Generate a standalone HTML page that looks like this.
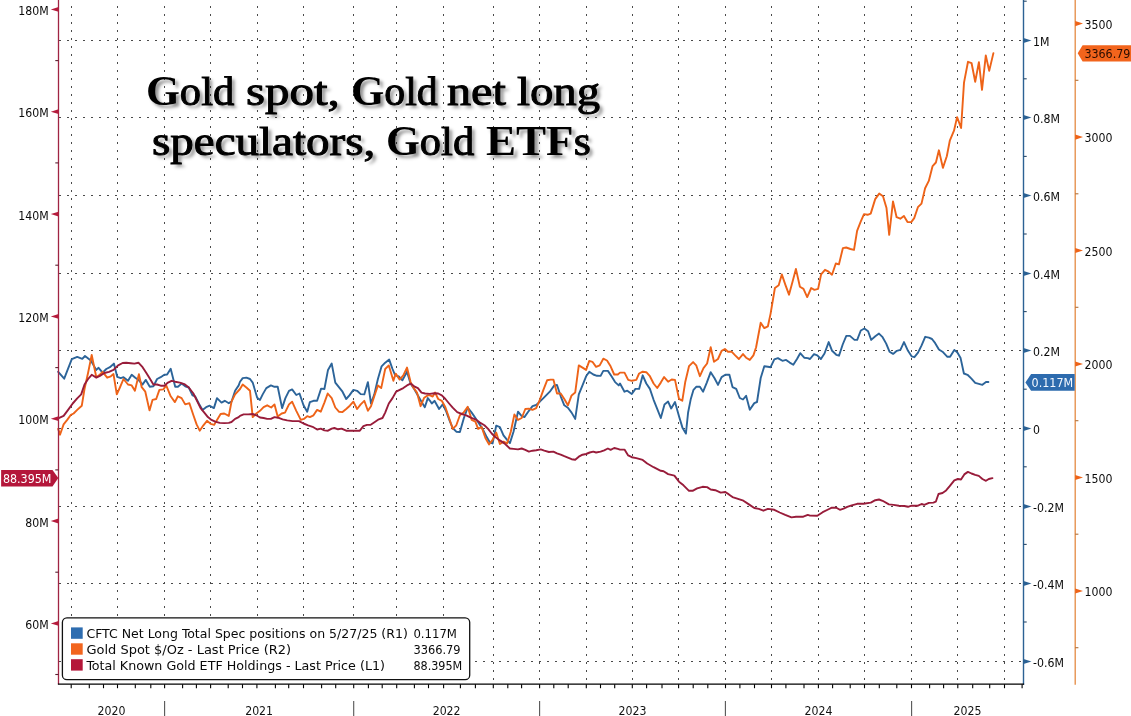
<!DOCTYPE html>
<html lang="en"><head><meta charset="utf-8"><title>Gold spot, Gold net long speculators, Gold ETFs</title>
<style>
html,body{margin:0;padding:0;background:#fff;}
body{width:1131px;height:716px;overflow:hidden;position:relative;}
svg{position:absolute;left:0;top:0;display:block;}
.lbl{font-family:"DejaVu Sans Condensed","DejaVu Sans","Liberation Sans",sans-serif;font-stretch:condensed;font-size:13.0px;fill:#0a0a0a;}
.yr{font-family:"DejaVu Sans Condensed","DejaVu Sans","Liberation Sans",sans-serif;font-stretch:condensed;font-size:13.0px;fill:#111;}
.title{position:absolute;left:0;top:0;width:1131px;margin:0;font-family:"Liberation Serif","DejaVu Serif",serif;font-weight:normal;font-size:41.0px;line-height:51px;color:#000;white-space:nowrap;text-shadow:3.2px 3.2px 3.2px rgba(0,0,0,0.42);-webkit-text-stroke:1.0px #000;}
.title span{position:absolute;display:block;transform-origin:0 0;}
.title b{font-weight:bold;font-size:42.0px;-webkit-text-stroke:0;}
</style></head><body>
<svg width="1131" height="716" viewBox="0 0 1131 716">
<rect x="0" y="0" width="1131" height="716" fill="#ffffff"/>

<g stroke="#4a4a4a" stroke-width="1" stroke-dasharray="2 6" fill="none">
<line x1="59" y1="40.5" x2="1023.5" y2="40.5"/>
<line x1="59" y1="117.5" x2="1023.5" y2="117.5"/>
<line x1="59" y1="195.5" x2="1023.5" y2="195.5"/>
<line x1="59" y1="273.5" x2="1023.5" y2="273.5"/>
<line x1="59" y1="350.5" x2="1023.5" y2="350.5"/>
<line x1="59" y1="428.5" x2="1023.5" y2="428.5"/>
<line x1="59" y1="506.5" x2="1023.5" y2="506.5"/>
<line x1="59" y1="583.5" x2="1023.5" y2="583.5"/>
<line x1="59" y1="661.5" x2="1023.5" y2="661.5"/>
</g><g stroke="#4a4a4a" stroke-width="1" stroke-dasharray="2 6" fill="none">
<line x1="71.5" y1="-2" x2="71.5" y2="684.2"/>
<line x1="117.5" y1="-2" x2="117.5" y2="684.2"/>
<line x1="164.5" y1="-2" x2="164.5" y2="684.2"/>
<line x1="210.5" y1="-2" x2="210.5" y2="684.2"/>
<line x1="257.5" y1="-2" x2="257.5" y2="684.2"/>
<line x1="303.5" y1="-2" x2="303.5" y2="684.2"/>
<line x1="353.5" y1="-2" x2="353.5" y2="684.2"/>
<line x1="396.5" y1="-2" x2="396.5" y2="684.2"/>
<line x1="443.5" y1="-2" x2="443.5" y2="684.2"/>
<line x1="493.5" y1="-2" x2="493.5" y2="684.2"/>
<line x1="539.5" y1="-2" x2="539.5" y2="684.2"/>
<line x1="586.5" y1="-2" x2="586.5" y2="684.2"/>
<line x1="632.5" y1="-2" x2="632.5" y2="684.2"/>
<line x1="678.5" y1="-2" x2="678.5" y2="684.2"/>
<line x1="725.5" y1="-2" x2="725.5" y2="684.2"/>
<line x1="771.5" y1="-2" x2="771.5" y2="684.2"/>
<line x1="818.5" y1="-2" x2="818.5" y2="684.2"/>
<line x1="864.5" y1="-2" x2="864.5" y2="684.2"/>
<line x1="911.5" y1="-2" x2="911.5" y2="684.2"/>
<line x1="957.5" y1="-2" x2="957.5" y2="684.2"/>
<line x1="1004.5" y1="-2" x2="1004.5" y2="684.2"/>
</g>
<path d="M58.2 371.8 L64.2 378.7 L67.2 370.9 L71.8 359.1 L77.2 356.9 L82.3 358.9 L85.0 356.0 L90.8 360.5 L93.6 365.4 L96.3 369.9 L98.6 367.8 L102.6 372.7 L106.3 369.0 L109.9 367.2 L113.9 363.6 L117.2 376.8 L120.8 378.1 L123.5 377.2 L128.0 380.8 L131.7 374.8 L135.3 377.7 L138.9 380.3 L142.6 384.5 L145.8 379.9 L149.8 386.8 L153.4 386.3 L157.1 379.0 L160.7 377.2 L164.3 374.8 L167.1 374.5 L170.7 368.7 L175.2 386.8 L177.9 386.8 L181.6 383.6 L185.2 386.3 L188.8 387.5 L192.5 395.4 L195.2 396.3 L198.8 403.5 L202.5 409.9 L206.1 407.2 L209.7 405.7 L213.9 408.1 L217.0 398.1 L221.5 402.6 L224.8 400.8 L228.8 403.2 L231.5 401.7 L235.1 390.8 L238.7 385.4 L240.0 381.7 L242.7 378.1 L246.4 377.6 L250.0 379.0 L252.7 382.6 L257.2 397.7 L260.0 399.9 L262.7 394.4 L266.3 388.1 L270.9 385.4 L274.5 386.8 L277.7 386.8 L282.1 408.1 L285.4 398.1 L289.0 390.8 L292.1 389.4 L296.3 395.0 L299.5 393.5 L303.5 405.3 L307.2 411.7 L309.9 402.1 L313.5 400.8 L317.1 400.8 L321.1 388.6 L324.4 389.0 L328.0 369.9 L331.7 363.6 L335.3 382.6 L338.9 387.2 L342.5 391.7 L346.2 399.0 L349.4 395.4 L353.4 389.9 L357.1 390.8 L360.7 394.1 L364.3 394.4 L367.9 382.1 L371.0 403.5 L374.3 394.4 L377.9 379.0 L381.6 366.3 L385.2 362.7 L389.2 359.6 L392.5 369.0 L395.2 375.4 L398.8 376.3 L402.4 380.3 L407.0 371.8 L410.6 383.6 L414.2 389.0 L417.9 395.4 L421.5 401.7 L424.8 407.2 L427.8 398.1 L430.0 400.8 L431.8 403.5 L434.5 400.8 L439.1 409.0 L442.7 404.4 L446.3 411.7 L450.0 421.7 L452.7 428.0 L456.3 431.7 L459.9 432.0 L463.6 418.9 L467.7 407.5 L471.7 412.6 L475.4 418.0 L479.0 423.5 L482.6 428.9 L486.3 436.2 L489.9 442.5 L492.6 443.4 L496.2 425.7 L499.9 427.1 L503.5 435.3 L507.1 439.8 L509.9 443.1 L513.5 431.7 L518.0 411.7 L521.7 416.2 L524.4 417.1 L528.9 410.8 L532.5 406.2 L536.2 405.0 L539.8 401.7 L543.4 398.1 L547.1 394.4 L549.8 391.7 L554.3 385.4 L557.0 385.0 L560.7 396.3 L564.3 405.3 L567.9 407.7 L571.6 412.6 L575.2 418.9 L578.8 394.4 L582.5 385.4 L586.1 376.3 L589.3 371.8 L593.3 374.5 L597.0 375.8 L600.6 375.9 L603.3 370.9 L607.9 370.9 L611.5 376.3 L615.1 382.1 L618.7 385.4 L620.0 383.5 L624.5 391.7 L627.3 390.7 L631.8 394.0 L635.4 388.9 L639.1 388.9 L642.7 375.3 L646.3 383.5 L649.9 388.9 L653.6 399.8 L657.2 408.9 L660.8 418.0 L664.5 404.4 L668.1 401.6 L671.2 408.5 L675.0 402.0 L679.0 416.2 L682.6 428.1 L685.9 433.6 L688.1 412.5 L690.8 398.9 L693.5 389.8 L696.2 386.8 L699.9 386.8 L703.1 391.7 L706.8 382.6 L710.7 372.2 L714.4 378.0 L718.0 384.9 L721.6 377.1 L725.3 374.8 L729.4 374.8 L732.5 387.1 L736.2 388.9 L739.8 398.0 L743.0 399.5 L746.1 395.8 L749.8 409.8 L754.3 403.1 L757.0 402.0 L760.7 378.0 L764.3 366.2 L767.9 366.8 L770.6 367.2 L774.3 359.3 L777.9 358.1 L782.4 360.8 L786.1 359.9 L789.7 362.6 L793.3 364.8 L797.0 359.0 L800.2 353.2 L804.2 357.7 L807.8 358.1 L810.0 359.0 L814.0 354.1 L817.3 355.4 L820.9 359.0 L824.5 353.5 L828.7 342.1 L832.1 350.8 L836.3 354.8 L839.0 355.7 L842.7 344.5 L846.3 335.9 L849.9 335.9 L854.5 339.9 L857.2 339.9 L860.8 330.5 L864.4 328.5 L868.1 331.2 L871.2 339.9 L875.3 336.3 L879.0 333.6 L882.6 337.2 L886.2 343.6 L889.5 351.7 L893.1 353.9 L896.8 350.8 L900.4 349.9 L904.0 342.1 L908.0 350.8 L911.6 356.3 L914.4 357.2 L918.0 352.6 L921.6 345.4 L925.2 336.8 L928.9 337.7 L932.0 339.0 L935.2 343.2 L938.9 349.5 L942.5 351.7 L947.4 356.8 L950.1 356.8 L954.3 349.9 L957.4 352.6 L960.6 358.1 L963.9 373.5 L967.5 374.8 L971.2 378.4 L975.2 382.9 L978.8 383.8 L982.4 384.8 L986.0 382.0 L988.4 382.0" fill="none" stroke="#2c6499" stroke-width="1.9" stroke-linejoin="round" stroke-linecap="round"/>
<path d="M58.2 428.9 L60.0 434.7 L63.6 424.4 L67.2 419.9 L70.9 414.8 L73.6 413.5 L77.2 409.9 L81.8 405.7 L84.5 389.0 L88.1 372.7 L91.7 354.9 L96.3 377.2 L99.0 375.4 L102.6 371.8 L107.2 377.7 L110.8 376.3 L113.5 374.1 L116.8 394.4 L119.9 387.5 L123.5 379.0 L128.0 384.5 L131.7 385.4 L134.9 390.8 L138.9 374.1 L141.7 387.2 L145.3 391.7 L149.5 410.4 L152.5 399.9 L156.2 399.0 L159.4 389.9 L163.4 389.4 L166.2 385.4 L170.7 396.3 L174.9 402.1 L177.9 396.3 L181.6 398.1 L185.2 404.4 L189.4 403.2 L193.4 415.3 L196.6 424.4 L199.7 430.7 L203.4 425.3 L207.0 420.8 L210.6 423.8 L214.2 424.9 L217.0 419.9 L220.6 414.0 L224.2 413.5 L228.8 415.9 L231.5 401.7 L235.1 394.4 L240.0 389.0 L242.7 384.5 L246.4 387.5 L250.0 390.8 L252.7 417.1 L256.3 413.5 L260.0 410.8 L263.6 407.2 L267.2 405.3 L271.2 407.5 L274.5 404.4 L277.7 416.6 L281.7 413.5 L285.0 412.6 L289.0 404.4 L292.1 401.7 L296.3 410.8 L300.8 419.9 L303.9 418.9 L307.2 416.2 L309.9 417.1 L313.5 415.3 L317.1 409.9 L320.8 411.7 L324.4 402.6 L327.7 393.5 L331.7 398.1 L335.3 407.5 L338.9 411.7 L342.5 412.1 L346.2 409.0 L349.8 405.7 L353.4 401.7 L357.1 409.0 L360.7 404.4 L364.3 400.8 L367.9 410.8 L371.0 406.2 L374.3 396.3 L377.9 385.4 L381.2 388.1 L385.2 369.0 L388.8 365.4 L393.4 380.8 L395.7 373.6 L399.7 379.6 L403.3 375.4 L407.0 367.6 L410.6 382.1 L413.3 387.5 L417.0 392.6 L420.6 406.2 L424.2 397.7 L427.8 395.4 L430.0 395.4 L432.7 396.6 L435.1 392.6 L438.2 399.0 L441.8 400.8 L445.4 407.2 L449.1 418.0 L452.7 428.9 L456.3 425.3 L459.9 415.3 L463.6 412.6 L467.7 406.8 L471.7 419.9 L475.4 421.7 L478.1 428.9 L481.7 427.1 L485.4 438.0 L489.0 444.4 L492.6 439.8 L496.2 432.6 L499.9 444.0 L503.5 441.6 L507.1 443.4 L510.8 431.7 L514.4 414.4 L518.0 419.9 L521.7 418.0 L525.3 409.0 L528.9 408.6 L532.5 409.9 L536.2 408.1 L539.8 399.9 L543.4 389.9 L547.1 380.3 L550.7 379.6 L553.4 379.6 L557.0 393.5 L560.7 393.5 L564.3 399.0 L567.9 405.3 L571.6 395.4 L575.2 392.6 L578.8 365.4 L582.5 367.6 L586.1 369.9 L589.3 360.9 L592.4 361.8 L596.1 366.9 L599.7 365.4 L603.3 358.7 L607.0 360.5 L610.6 366.3 L614.2 374.5 L617.8 374.5 L620.0 372.6 L624.5 372.6 L628.2 379.9 L631.8 380.8 L636.3 379.9 L639.1 373.5 L642.7 371.7 L646.3 372.2 L649.9 376.2 L653.6 383.5 L657.2 388.0 L660.8 382.6 L664.1 377.1 L668.1 381.7 L671.7 379.5 L675.0 379.9 L679.0 398.9 L682.3 400.7 L685.3 381.7 L689.0 366.2 L693.1 362.1 L696.2 365.3 L699.9 376.2 L703.5 368.1 L707.1 363.5 L710.7 347.2 L714.0 361.7 L718.0 359.0 L721.6 350.8 L724.9 349.0 L728.0 351.7 L731.6 351.7 L735.2 355.4 L738.9 359.0 L743.0 354.1 L746.1 357.7 L749.8 359.9 L753.4 355.4 L756.1 347.2 L760.7 322.7 L764.3 328.1 L767.9 326.3 L770.6 313.6 L774.9 288.0 L778.7 285.3 L781.8 274.4 L785.4 284.9 L789.0 294.7 L792.6 281.6 L795.9 268.9 L799.9 286.7 L803.5 288.9 L807.2 297.1 L811.2 288.0 L814.4 289.8 L818.1 288.9 L821.1 274.4 L825.0 269.8 L828.6 271.7 L832.0 274.7 L835.8 263.5 L838.9 264.4 L842.9 248.1 L846.2 247.5 L850.4 249.0 L854.0 249.9 L857.1 230.8 L860.7 221.7 L864.0 214.1 L867.6 214.8 L870.7 213.6 L875.2 199.1 L879.2 193.6 L883.0 196.3 L886.5 208.1 L889.2 234.8 L893.0 201.4 L896.6 217.2 L900.3 218.7 L903.9 215.9 L907.5 222.1 L911.2 222.1 L914.2 218.1 L917.9 207.2 L921.5 203.6 L925.1 188.2 L928.8 180.9 L932.6 166.1 L935.9 162.5 L938.9 150.3 L942.9 167.9 L946.8 156.2 L949.8 140.7 L954.0 130.7 L957.1 117.1 L961.1 128.0 L964.0 82.6 L968.0 61.8 L971.6 63.2 L975.2 81.7 L978.9 62.1 L982.0 89.9 L985.8 55.4 L989.2 70.9 L993.4 53.1" fill="none" stroke="#ee6318" stroke-width="1.9" stroke-linejoin="round" stroke-linecap="round"/>
<path d="M58.2 418.4 L63.6 415.9 L68.1 409.9 L72.7 403.5 L77.2 398.4 L81.2 394.4 L84.5 384.5 L88.1 379.0 L91.7 374.8 L96.3 377.6 L99.9 375.9 L104.4 373.0 L109.0 371.8 L113.5 369.9 L118.1 365.4 L122.6 363.0 L126.2 362.7 L130.8 363.2 L134.4 363.6 L138.4 362.7 L142.6 367.2 L146.2 372.7 L149.8 378.5 L153.4 384.5 L157.1 384.5 L160.7 385.7 L164.3 385.7 L168.0 382.6 L171.6 380.8 L175.2 381.7 L179.8 382.6 L184.3 384.1 L188.8 387.5 L193.4 393.5 L197.0 400.8 L200.6 408.1 L204.3 412.6 L207.9 417.1 L211.5 419.9 L215.2 421.7 L219.7 422.9 L224.2 423.1 L228.8 422.9 L231.5 422.0 L235.1 418.9 L238.7 417.1 L240.0 415.9 L243.6 414.4 L248.2 414.4 L252.7 414.0 L256.3 415.3 L260.0 417.5 L263.6 418.0 L267.2 418.9 L270.9 418.9 L274.5 417.1 L278.1 417.7 L282.6 419.3 L287.2 420.4 L292.6 421.1 L299.0 421.1 L303.5 423.5 L308.1 425.3 L312.6 426.8 L317.1 429.5 L320.8 428.6 L324.4 430.4 L328.0 430.7 L331.7 428.6 L334.4 428.0 L338.0 429.3 L341.6 428.6 L346.2 430.7 L350.7 430.7 L355.2 430.7 L359.8 430.7 L363.4 426.2 L367.0 424.9 L370.7 424.8 L375.2 421.7 L378.8 419.3 L382.5 418.0 L385.2 412.6 L388.8 403.5 L392.5 398.1 L396.1 391.7 L399.7 389.9 L403.3 388.1 L407.0 385.4 L410.6 383.6 L414.2 386.3 L417.9 388.1 L421.5 392.6 L425.1 393.5 L429.7 393.9 L434.5 393.2 L438.2 393.5 L441.8 395.4 L445.4 399.0 L449.1 403.5 L452.7 407.7 L457.2 412.2 L461.8 414.0 L466.3 415.3 L470.8 417.7 L475.4 419.3 L479.9 422.6 L484.4 425.3 L488.1 428.9 L491.7 433.5 L495.3 437.1 L499.9 440.4 L504.4 443.4 L509.9 448.5 L513.5 448.9 L518.0 449.4 L521.7 448.5 L525.3 449.8 L528.9 451.6 L532.5 450.7 L536.2 450.3 L540.7 449.4 L544.3 450.7 L548.9 452.0 L553.4 451.6 L557.0 453.4 L560.7 454.7 L564.3 456.2 L567.9 457.6 L571.6 459.2 L575.2 459.8 L578.8 456.7 L582.5 454.7 L586.1 454.0 L589.7 452.5 L593.3 451.6 L596.1 452.5 L600.6 451.6 L604.2 450.3 L607.9 448.5 L610.6 449.8 L614.2 448.0 L617.8 448.9 L620.0 449.6 L624.5 449.6 L628.2 455.4 L631.8 457.2 L636.3 458.1 L642.7 459.9 L647.2 463.5 L653.6 467.2 L660.8 470.8 L663.6 471.2 L668.1 474.1 L674.4 475.7 L679.0 481.7 L683.5 485.3 L689.0 490.8 L692.6 490.8 L697.1 488.4 L702.6 486.8 L707.1 487.1 L710.7 489.5 L715.3 490.2 L720.7 492.6 L725.3 492.0 L728.9 494.4 L732.5 497.1 L738.0 498.9 L743.4 500.7 L748.9 504.4 L754.3 508.0 L758.8 508.9 L763.4 510.7 L767.9 508.9 L774.3 509.8 L779.7 512.5 L785.2 514.9 L791.5 517.4 L796.0 516.7 L803.3 516.7 L807.8 514.9 L810.0 515.6 L817.3 515.8 L822.7 512.2 L828.1 509.5 L831.8 507.7 L836.3 507.7 L839.9 509.8 L843.6 508.6 L847.2 506.8 L851.7 505.3 L857.2 503.8 L863.5 503.8 L870.8 502.6 L875.3 500.2 L879.0 499.5 L882.6 500.8 L888.9 504.4 L893.5 504.9 L898.9 505.7 L904.4 506.0 L908.0 506.8 L911.6 505.7 L918.0 505.7 L921.6 504.0 L924.3 504.9 L928.9 502.9 L933.4 502.6 L935.8 501.7 L938.5 494.0 L942.5 493.0 L946.1 490.4 L949.7 486.2 L954.3 480.4 L957.9 479.0 L961.0 479.5 L964.3 474.4 L967.9 471.9 L971.5 473.5 L975.2 474.8 L978.8 475.9 L982.4 479.0 L986.0 480.8 L988.8 479.0 L992.4 478.1" fill="none" stroke="#981c3a" stroke-width="1.9" stroke-linejoin="round" stroke-linecap="round"/>
<line x1="58.5" y1="0" x2="58.5" y2="684.2" stroke="#a02443" stroke-width="1.3"/>
<line x1="1023.5" y1="0" x2="1023.5" y2="684.7" stroke="#2c6294" stroke-width="1.4"/>
<line x1="1075.2" y1="0" x2="1075.2" y2="684.7" stroke="#e48a42" stroke-width="1.3"/>
<line x1="57.9" y1="684.2" x2="1024.1" y2="684.2" stroke="#000" stroke-width="1.3"/>
<g stroke="#000" stroke-width="1.1">
<line x1="71.2" y1="684.2" x2="71.2" y2="688.2"/>
<line x1="89.3" y1="684.2" x2="89.3" y2="688.2"/>
<line x1="103.5" y1="684.2" x2="103.5" y2="688.2"/>
<line x1="117.5" y1="684.2" x2="117.5" y2="688.2"/>
<line x1="135.3" y1="684.2" x2="135.3" y2="688.2"/>
<line x1="150.8" y1="684.2" x2="150.8" y2="688.2"/>
<line x1="164.6" y1="684.2" x2="164.6" y2="688.2"/>
<line x1="182.6" y1="684.2" x2="182.6" y2="688.2"/>
<line x1="196.4" y1="684.2" x2="196.4" y2="688.2"/>
<line x1="210.6" y1="684.2" x2="210.6" y2="688.2"/>
<line x1="228.2" y1="684.2" x2="228.2" y2="688.2"/>
<line x1="242.5" y1="684.2" x2="242.5" y2="688.2"/>
<line x1="256.9" y1="684.2" x2="256.9" y2="688.2"/>
<line x1="275.4" y1="684.2" x2="275.4" y2="688.2"/>
<line x1="288.7" y1="684.2" x2="288.7" y2="688.2"/>
<line x1="303.5" y1="684.2" x2="303.5" y2="688.2"/>
<line x1="321.6" y1="684.2" x2="321.6" y2="688.2"/>
<line x1="335.7" y1="684.2" x2="335.7" y2="688.2"/>
<line x1="353.7" y1="684.2" x2="353.7" y2="688.2"/>
<line x1="368.4" y1="684.2" x2="368.4" y2="688.2"/>
<line x1="382.2" y1="684.2" x2="382.2" y2="688.2"/>
<line x1="396.7" y1="684.2" x2="396.7" y2="688.2"/>
<line x1="414.4" y1="684.2" x2="414.4" y2="688.2"/>
<line x1="428.5" y1="684.2" x2="428.5" y2="688.2"/>
<line x1="443.6" y1="684.2" x2="443.6" y2="688.2"/>
<line x1="460.4" y1="684.2" x2="460.4" y2="688.2"/>
<line x1="475.4" y1="684.2" x2="475.4" y2="688.2"/>
<line x1="493.3" y1="684.2" x2="493.3" y2="688.2"/>
<line x1="507.8" y1="684.2" x2="507.8" y2="688.2"/>
<line x1="521.6" y1="684.2" x2="521.6" y2="688.2"/>
<line x1="539.6" y1="684.2" x2="539.6" y2="688.2"/>
<line x1="553.8" y1="684.2" x2="553.8" y2="688.2"/>
<line x1="568.2" y1="684.2" x2="568.2" y2="688.2"/>
<line x1="586.3" y1="684.2" x2="586.3" y2="688.2"/>
<line x1="600.5" y1="684.2" x2="600.5" y2="688.2"/>
<line x1="614.7" y1="684.2" x2="614.7" y2="688.2"/>
<line x1="632.3" y1="684.2" x2="632.3" y2="688.2"/>
<line x1="646.6" y1="684.2" x2="646.6" y2="688.2"/>
<line x1="662.0" y1="684.2" x2="662.0" y2="688.2"/>
<line x1="678.6" y1="684.2" x2="678.6" y2="688.2"/>
<line x1="693.2" y1="684.2" x2="693.2" y2="688.2"/>
<line x1="707.8" y1="684.2" x2="707.8" y2="688.2"/>
<line x1="725.5" y1="684.2" x2="725.5" y2="688.2"/>
<line x1="739.9" y1="684.2" x2="739.9" y2="688.2"/>
<line x1="754.5" y1="684.2" x2="754.5" y2="688.2"/>
<line x1="771.5" y1="684.2" x2="771.5" y2="688.2"/>
<line x1="785.9" y1="684.2" x2="785.9" y2="688.2"/>
<line x1="804.0" y1="684.2" x2="804.0" y2="688.2"/>
<line x1="818.4" y1="684.2" x2="818.4" y2="688.2"/>
<line x1="832.6" y1="684.2" x2="832.6" y2="688.2"/>
<line x1="850.2" y1="684.2" x2="850.2" y2="688.2"/>
<line x1="864.5" y1="684.2" x2="864.5" y2="688.2"/>
<line x1="879.3" y1="684.2" x2="879.3" y2="688.2"/>
<line x1="896.8" y1="684.2" x2="896.8" y2="688.2"/>
<line x1="911.5" y1="684.2" x2="911.5" y2="688.2"/>
<line x1="929.6" y1="684.2" x2="929.6" y2="688.2"/>
<line x1="943.6" y1="684.2" x2="943.6" y2="688.2"/>
<line x1="957.8" y1="684.2" x2="957.8" y2="688.2"/>
<line x1="972.7" y1="684.2" x2="972.7" y2="688.2"/>
<line x1="989.7" y1="684.2" x2="989.7" y2="688.2"/>
<line x1="1004.5" y1="684.2" x2="1004.5" y2="688.2"/>
<line x1="1022.1" y1="684.2" x2="1022.1" y2="688.2"/>
</g>
<g stroke="#555" stroke-width="1.1">
<line x1="164.6" y1="701" x2="164.6" y2="716"/>
<line x1="353.7" y1="701" x2="353.7" y2="716"/>
<line x1="539.6" y1="701" x2="539.6" y2="716"/>
<line x1="725.4" y1="701" x2="725.4" y2="716"/>
<line x1="911.6" y1="701" x2="911.6" y2="716"/>
</g>
<text class="yr" transform="translate(111.5 715.0) scale(0.938 1)" text-anchor="middle">2020</text>
<text class="yr" transform="translate(259.1 715.0) scale(0.938 1)" text-anchor="middle">2021</text>
<text class="yr" transform="translate(446.6 715.0) scale(0.938 1)" text-anchor="middle">2022</text>
<text class="yr" transform="translate(632.5 715.0) scale(0.938 1)" text-anchor="middle">2023</text>
<text class="yr" transform="translate(818.5 715.0) scale(0.938 1)" text-anchor="middle">2024</text>
<text class="yr" transform="translate(967.5 715.0) scale(0.938 1)" text-anchor="middle">2025</text>
<path d="M58.5 7.0 L50.8 9.4 L58.5 11.8 Z" fill="#b51b3c"/>
<text class="lbl" transform="translate(48.7 14.9) scale(0.938 1)" text-anchor="end">180M</text>
<path d="M58.5 109.3 L50.8 111.7 L58.5 114.1 Z" fill="#b51b3c"/>
<text class="lbl" transform="translate(48.7 117.2) scale(0.938 1)" text-anchor="end">160M</text>
<path d="M58.5 211.7 L50.8 214.1 L58.5 216.5 Z" fill="#b51b3c"/>
<text class="lbl" transform="translate(48.7 219.6) scale(0.938 1)" text-anchor="end">140M</text>
<path d="M58.5 314.0 L50.8 316.4 L58.5 318.8 Z" fill="#b51b3c"/>
<text class="lbl" transform="translate(48.7 321.9) scale(0.938 1)" text-anchor="end">120M</text>
<path d="M58.5 416.3 L50.8 418.7 L58.5 421.1 Z" fill="#b51b3c"/>
<text class="lbl" transform="translate(48.7 424.2) scale(0.938 1)" text-anchor="end">100M</text>
<path d="M58.5 518.6 L50.8 521.0 L58.5 523.4 Z" fill="#b51b3c"/>
<text class="lbl" transform="translate(48.7 526.5) scale(0.938 1)" text-anchor="end">80M</text>
<path d="M58.5 621.0 L50.8 623.4 L58.5 625.8 Z" fill="#b51b3c"/>
<text class="lbl" transform="translate(48.7 628.9) scale(0.938 1)" text-anchor="end">60M</text>
<g stroke="#5a2030" stroke-width="1.1">
<line x1="55.3" y1="60.6" x2="58.5" y2="60.6"/>
<line x1="55.3" y1="162.9" x2="58.5" y2="162.9"/>
<line x1="55.3" y1="265.2" x2="58.5" y2="265.2"/>
<line x1="55.3" y1="367.6" x2="58.5" y2="367.6"/>
<line x1="55.3" y1="469.9" x2="58.5" y2="469.9"/>
<line x1="55.3" y1="572.2" x2="58.5" y2="572.2"/>
<line x1="55.3" y1="674.5" x2="58.5" y2="674.5"/>
</g>
<path d="M1023.5 38.0 L1031.5 40.5 L1023.5 43.0 Z" fill="#2c6294"/>
<text class="lbl" transform="translate(1033.0 45.8) scale(0.938 1)" text-anchor="start">1M</text>
<path d="M1023.5 115.0 L1031.5 117.5 L1023.5 120.0 Z" fill="#2c6294"/>
<text class="lbl" transform="translate(1033.0 122.8) scale(0.938 1)" text-anchor="start">0.8M</text>
<path d="M1023.5 193.0 L1031.5 195.5 L1023.5 198.0 Z" fill="#2c6294"/>
<text class="lbl" transform="translate(1033.0 200.8) scale(0.938 1)" text-anchor="start">0.6M</text>
<path d="M1023.5 271.0 L1031.5 273.5 L1023.5 276.0 Z" fill="#2c6294"/>
<text class="lbl" transform="translate(1033.0 278.8) scale(0.938 1)" text-anchor="start">0.4M</text>
<path d="M1023.5 348.0 L1031.5 350.5 L1023.5 353.0 Z" fill="#2c6294"/>
<text class="lbl" transform="translate(1033.0 355.8) scale(0.938 1)" text-anchor="start">0.2M</text>
<path d="M1023.5 426.0 L1031.5 428.5 L1023.5 431.0 Z" fill="#2c6294"/>
<text class="lbl" transform="translate(1033.0 433.8) scale(0.938 1)" text-anchor="start">0</text>
<path d="M1023.5 504.0 L1031.5 506.5 L1023.5 509.0 Z" fill="#2c6294"/>
<text class="lbl" transform="translate(1033.0 511.8) scale(0.938 1)" text-anchor="start">-0.2M</text>
<path d="M1023.5 581.0 L1031.5 583.5 L1023.5 586.0 Z" fill="#2c6294"/>
<text class="lbl" transform="translate(1033.0 588.8) scale(0.938 1)" text-anchor="start">-0.4M</text>
<path d="M1023.5 659.0 L1031.5 661.5 L1023.5 664.0 Z" fill="#2c6294"/>
<text class="lbl" transform="translate(1033.0 666.8) scale(0.938 1)" text-anchor="start">-0.6M</text>
<g stroke="#2a4a6a" stroke-width="1.1">
<line x1="1023.5" y1="1.2" x2="1026.7" y2="1.2"/>
<line x1="1023.5" y1="78.8" x2="1026.7" y2="78.8"/>
<line x1="1023.5" y1="156.4" x2="1026.7" y2="156.4"/>
<line x1="1023.5" y1="234.0" x2="1026.7" y2="234.0"/>
<line x1="1023.5" y1="311.6" x2="1026.7" y2="311.6"/>
<line x1="1023.5" y1="389.2" x2="1026.7" y2="389.2"/>
<line x1="1023.5" y1="466.8" x2="1026.7" y2="466.8"/>
<line x1="1023.5" y1="544.4" x2="1026.7" y2="544.4"/>
<line x1="1023.5" y1="622.0" x2="1026.7" y2="622.0"/>
</g>
<path d="M1075.2 21.0 L1083.0 23.6 L1075.2 26.2 Z" fill="#ee6318"/>
<text class="lbl" transform="translate(1084.6 28.7) scale(0.938 1)" text-anchor="start">3500</text>
<path d="M1075.2 134.5 L1083.0 137.1 L1075.2 139.7 Z" fill="#ee6318"/>
<text class="lbl" transform="translate(1084.6 142.2) scale(0.938 1)" text-anchor="start">3000</text>
<path d="M1075.2 247.9 L1083.0 250.5 L1075.2 253.1 Z" fill="#ee6318"/>
<text class="lbl" transform="translate(1084.6 255.6) scale(0.938 1)" text-anchor="start">2500</text>
<path d="M1075.2 361.4 L1083.0 364.0 L1075.2 366.6 Z" fill="#ee6318"/>
<text class="lbl" transform="translate(1084.6 369.1) scale(0.938 1)" text-anchor="start">2000</text>
<path d="M1075.2 474.9 L1083.0 477.5 L1075.2 480.1 Z" fill="#ee6318"/>
<text class="lbl" transform="translate(1084.6 482.6) scale(0.938 1)" text-anchor="start">1500</text>
<path d="M1075.2 588.4 L1083.0 591.0 L1075.2 593.6 Z" fill="#ee6318"/>
<text class="lbl" transform="translate(1084.6 596.1) scale(0.938 1)" text-anchor="start">1000</text>
<g stroke="#b0703a" stroke-width="1.1">
<line x1="1075.2" y1="80.3" x2="1078.4" y2="80.3"/>
<line x1="1075.2" y1="193.8" x2="1078.4" y2="193.8"/>
<line x1="1075.2" y1="307.3" x2="1078.4" y2="307.3"/>
<line x1="1075.2" y1="420.7" x2="1078.4" y2="420.7"/>
<line x1="1075.2" y1="534.2" x2="1078.4" y2="534.2"/>
<line x1="1075.2" y1="647.7" x2="1078.4" y2="647.7"/>
</g>
<path d="M1.1 469.9 H52.5 L58.3 478.1 L52.5 486.4 H1.1 Z" fill="#b4163a"/>
<text class="lbl" x="2.9" y="482.9" style="fill:#fff" textLength="48.6" lengthAdjust="spacingAndGlyphs">88.395M</text>
<path d="M1025.4 382.4 L1031.1 374.1 H1074.7 V390.7 H1031.1 Z" fill="#2d6bae"/>
<text class="lbl" x="1031.6" y="387.4" style="fill:#f4f8ff" textLength="41.6" lengthAdjust="spacingAndGlyphs">0.117M</text>
<path d="M1077.7 53.3 L1082.6 45.3 H1131 V61.5 H1082.6 Z" fill="#f2641c"/>
<text class="lbl" x="1084.4" y="58.3" style="fill:#2a0d00" textLength="46" lengthAdjust="spacingAndGlyphs">3366.79</text>
<rect x="62.4" y="617.8" width="407.3" height="61.9" rx="4.5" ry="4.5" fill="#fff" stroke="#111" stroke-width="1.3"/>
<rect x="71" y="627.4" width="11.7" height="11.4" fill="#2e6db0"/>
<text class="lbl" x="86.4" y="638.1" textLength="321.4" lengthAdjust="spacingAndGlyphs">CFTC Net Long Total Spec positions on 5/27/25 (R1)</text>
<text class="lbl" x="413.4" y="638.1" textLength="43.5" lengthAdjust="spacingAndGlyphs">0.117M</text>
<rect x="71" y="643.3" width="11.7" height="11.4" fill="#f2651e"/>
<text class="lbl" x="86.4" y="654.0" textLength="204.7" lengthAdjust="spacingAndGlyphs">Gold Spot $/Oz - Last Price (R2)</text>
<text class="lbl" x="413.4" y="654.0" textLength="47.2" lengthAdjust="spacingAndGlyphs">3366.79</text>
<rect x="71" y="659.2" width="11.7" height="11.4" fill="#b5173a"/>
<text class="lbl" x="86.4" y="669.9" textLength="298.6" lengthAdjust="spacingAndGlyphs">Total Known Gold ETF Holdings - Last Price (L1)</text>
<text class="lbl" x="413.4" y="669.9" textLength="48.9" lengthAdjust="spacingAndGlyphs">88.395M</text>
</svg>
<h1 class="title"><span id="w0" style="left:145.50px;top:65.5px;transform:scaleX(1.0368);"><b>G</b>old</span> <span id="w1" style="left:245.80px;top:65.5px;transform:scaleX(1.1934);">spot,</span> <span id="w2" style="left:351.10px;top:65.5px;transform:scaleX(1.0181);"><b>G</b>old</span> <span id="w3" style="left:447.40px;top:65.5px;transform:scaleX(1.1736);">net</span> <span id="w4" style="left:517.00px;top:65.5px;transform:scaleX(1.1390);">long</span> <span id="w5" style="left:151.80px;top:116.3px;transform:scaleX(1.1466);">speculators,</span> <span id="w6" style="left:385.90px;top:116.3px;transform:scaleX(1.0362);"><b>G</b>old</span> <span id="w7" style="left:485.60px;top:116.3px;transform:scaleX(1.0730);"><b>ETF</b>s</span></h1>
</body></html>
